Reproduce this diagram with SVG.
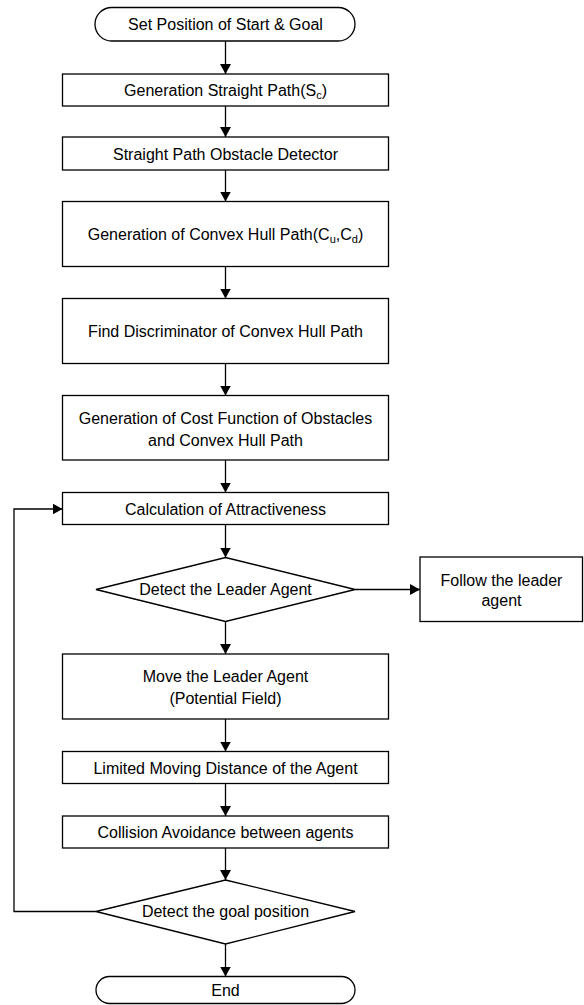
<svg xmlns="http://www.w3.org/2000/svg" width="584" height="1005" viewBox="0 0 584 1005">
<style>
.box{fill:#fff;stroke:#000;stroke-width:1.3}
.t{font-family:"Liberation Sans",Arial,sans-serif;font-size:16px;fill:#000;text-anchor:middle}
.c{fill:none;stroke:#000;stroke-width:1.3}
</style>
<defs>
<marker id="ah" markerUnits="userSpaceOnUse" markerWidth="11" markerHeight="11" refX="10" refY="5.5" orient="auto">
<path d="M0,0 L10,5.5 L0,11 z" fill="#000"/>
</marker>
</defs>
<g id="connectors">
<line class="c" x1="225.5" y1="41" x2="225.5" y2="74" marker-end="url(#ah)"/>
<line class="c" x1="225.5" y1="106" x2="225.5" y2="137" marker-end="url(#ah)"/>
<line class="c" x1="225.5" y1="170" x2="225.5" y2="201.5" marker-end="url(#ah)"/>
<line class="c" x1="225.5" y1="266.5" x2="225.5" y2="298.5" marker-end="url(#ah)"/>
<line class="c" x1="225.5" y1="363.5" x2="225.5" y2="395.5" marker-end="url(#ah)"/>
<line class="c" x1="225.5" y1="460" x2="225.5" y2="492.5" marker-end="url(#ah)"/>
<line class="c" x1="225.5" y1="524.5" x2="225.5" y2="557.5" marker-end="url(#ah)"/>
<line class="c" x1="355" y1="589.5" x2="420" y2="589.5" marker-end="url(#ah)"/>
<line class="c" x1="225.5" y1="621.5" x2="225.5" y2="654" marker-end="url(#ah)"/>
<line class="c" x1="225.5" y1="719" x2="225.5" y2="751.5" marker-end="url(#ah)"/>
<line class="c" x1="225.5" y1="783.5" x2="225.5" y2="816" marker-end="url(#ah)"/>
<line class="c" x1="225.5" y1="848" x2="225.5" y2="880" marker-end="url(#ah)"/>
<line class="c" x1="225.5" y1="944" x2="225.5" y2="976.5" marker-end="url(#ah)"/>
<polyline class="c" points="96,911.5 14,911.5 14,509 62.5,509" marker-end="url(#ah)"/>
</g>
<g id="start">
<rect class="box" x="95" y="7.5" width="260" height="33.5" rx="16.75"/>
<text class="t" x="225.5" y="30">Set Position of Start &amp; Goal</text>
</g>
<g id="straight-path">
<rect class="box" x="62.5" y="74" width="326" height="32"/>
<text class="t" x="225.5" y="95.5">Generation Straight Path(S<tspan font-size="11" dy="3">c</tspan><tspan dy="-3">)</tspan></text>
</g>
<g id="obstacle-detector">
<rect class="box" x="62.5" y="137" width="326" height="33"/>
<text class="t" x="225.5" y="159.5">Straight Path Obstacle Detector</text>
</g>
<g id="convex-hull">
<rect class="box" x="62.5" y="201.5" width="326" height="65"/>
<text class="t" x="225.5" y="240">Generation of Convex Hull Path(C<tspan font-size="11" dy="3">u</tspan><tspan dy="-3">,C</tspan><tspan font-size="11" dy="3">d</tspan><tspan dy="-3">)</tspan></text>
</g>
<g id="discriminator">
<rect class="box" x="62.5" y="298.5" width="326" height="65"/>
<text class="t" x="225.5" y="337">Find Discriminator of Convex Hull Path</text>
</g>
<g id="cost-function">
<rect class="box" x="62.5" y="395.5" width="326" height="64.5"/>
<text class="t" x="225.5" y="423.5">Generation of Cost Function of Obstacles</text>
<text class="t" x="225.5" y="445.5">and Convex Hull Path</text>
</g>
<g id="attractiveness">
<rect class="box" x="62.5" y="492.5" width="326" height="32"/>
<text class="t" x="225.5" y="514.5">Calculation of Attractiveness</text>
</g>
<g id="detect-leader">
<polygon class="box" points="225.5,557.5 355,589.5 225.5,621.5 96,589.5"/>
<text class="t" x="225.5" y="595">Detect the Leader Agent</text>
</g>
<g id="follow-leader">
<rect class="box" x="420" y="557" width="162.5" height="64.5"/>
<text class="t" x="501.5" y="585.5">Follow the leader</text>
<text class="t" x="501.5" y="606">agent</text>
</g>
<g id="move-leader">
<rect class="box" x="62.5" y="654" width="326" height="65"/>
<text class="t" x="225.5" y="682">Move the Leader Agent</text>
<text class="t" x="225.5" y="703.5">(Potential Field)</text>
</g>
<g id="limited-distance">
<rect class="box" x="62.5" y="751.5" width="326" height="32"/>
<text class="t" x="225.5" y="773.5">Limited Moving Distance of the Agent</text>
</g>
<g id="collision">
<rect class="box" x="62.5" y="816" width="326" height="32"/>
<text class="t" x="225.5" y="837.5">Collision Avoidance between agents</text>
</g>
<g id="detect-goal">
<polygon class="box" points="225.5,880 355,911.5 225.5,944 96,911.5"/>
<text class="t" x="225.5" y="917">Detect the goal position</text>
</g>
<g id="end">
<rect class="box" x="96" y="976.5" width="259" height="27" rx="13.5"/>
<text class="t" x="225.5" y="996">End</text>
</g>
</svg>
